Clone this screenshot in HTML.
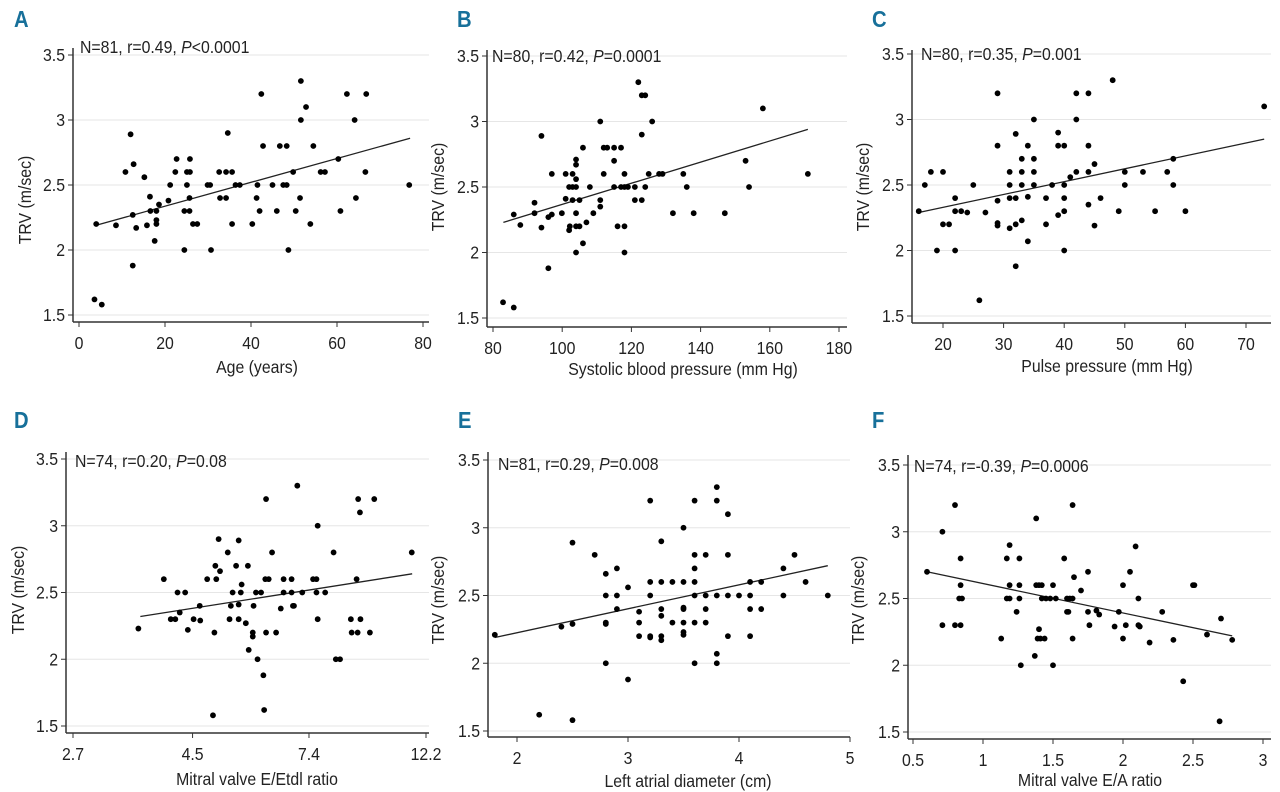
<!DOCTYPE html>
<html><head><meta charset="utf-8">
<style>
html,body{margin:0;padding:0;background:#fff;}
svg{display:block;font-family:"Liberation Sans Narrow","Liberation Sans",sans-serif;}
</style></head>
<body>
<svg id="fig" width="1280" height="792" viewBox="0 0 1280 792" xmlns="http://www.w3.org/2000/svg"></svg>
<script>
// ---- Data ----
const yTicks = [1.5, 2, 2.5, 3, 3.5];
const yTickLabels = ["1.5", "2", "2.5", "3", "3.5"];

const aX = [3.6,5.3,4,8.6,10.8,12,12.7,12.5,12.5,13.3,15.2,15.8,16.5,16.6,17.6,18,18,18,18.6,20.8,21.2,22.4,22.7,24.5,24.5,25.1,25.1,25.7,25.7,25.8,25.8,26.5,27.5,29.9,30.5,30.7,32.6,32.8,34.2,34.2,34.6,35.6,35.6,36.4,37.4,40.3,41.3,41.5,42,42.4,42.8,45,46,46.7,47.5,48.3,48.3,48.7,49.8,50.4,51.4,51.6,51.6,52.8,53.8,54.5,56.2,57.2,60.3,60.8,62.3,64.1,64.4,66.6,66.8,76.8];
const aY = [1.62,1.58,2.2,2.19,2.6,2.89,2.66,2.27,1.88,2.17,2.56,2.19,2.41,2.3,2.07,2.3,2.23,2.2,2.35,2.38,2.5,2.6,2.7,2.3,2.0,2.6,2.5,2.4,2.3,2.7,2.6,2.2,2.2,2.5,2.5,2.0,2.6,2.4,2.4,2.6,2.9,2.6,2.2,2.5,2.5,2.2,2.4,2.5,2.3,3.2,2.8,2.5,2.3,2.8,2.5,2.8,2.5,2.0,2.6,2.3,2.4,3.3,3.0,3.1,2.2,2.8,2.6,2.6,2.7,2.3,3.2,3.0,2.4,2.6,3.2,2.5];
const aFit = [4, 2.19, 77, 2.86];
const aXTicks = [0,20,40,60,80];
const aXTickLabels = ["0","20","40","60","80"];

const bX = [82.9,86,86,87.9,92,92,94,94,96,96,97,97,99.9,101,101,102,102,102.2,103,103,103,104,104,104,104,104,104,104,105,105,106,106,107,108,109,111,111,111,112,112,113,115,115,115,116,117,117,118,118,118,118,119,121,121,122,123,124,123,123,124,125,126,128,129,132,135,136,138,147,153,154,158,171];
const bY = [1.62,1.58,2.29,2.21,2.38,2.3,2.89,2.19,2.27,1.88,2.6,2.29,2.3,2.6,2.41,2.5,2.17,2.2,2.6,2.4,2.5,2.71,2.67,2.56,2.5,2.3,2.2,2.0,2.4,2.2,2.8,2.07,2.23,2.5,2.3,3.0,2.4,2.35,2.6,2.8,2.8,2.8,2.7,2.5,2.2,2.8,2.5,2.6,2.5,2.2,2.0,2.5,2.5,2.4,3.3,3.2,3.2,2.9,2.4,2.5,2.6,3.0,2.6,2.6,2.3,2.6,2.5,2.3,2.3,2.7,2.5,3.1,2.6];
const bFit = [83, 2.23, 171, 2.94];
const bXTicks = [80,100,120,140,160,180];
const bXTickLabels = ["80","100","120","140","160","180"];

const cX = [16,17,18,19,20,20,21,22,22,22,23,24,25,27,29,29,29,29,29,31,31,31,31,32,32,32,32,33,33,33,33,34,34,34,35,35,35,35,37,37,38,39,39,39,40,40,40,40,40,41,42,42,42,44,44,44,44,45,45,46,48,49,50,50,53,55,57,58,58,60,73,26];
const cY = [2.3,2.5,2.6,2.0,2.6,2.2,2.2,2.4,2.3,2.0,2.3,2.29,2.5,2.29,3.2,2.8,2.38,2.21,2.19,2.6,2.5,2.4,2.17,2.89,2.4,2.2,1.88,2.7,2.6,2.5,2.23,2.8,2.41,2.07,3.0,2.7,2.6,2.5,2.4,2.2,2.5,2.9,2.8,2.27,2.8,2.5,2.4,2.3,2.0,2.56,3.2,3.0,2.6,3.2,2.8,2.6,2.35,2.66,2.19,2.4,3.3,2.3,2.6,2.5,2.6,2.3,2.6,2.7,2.5,2.3,3.1,1.62];
const cFit = [16, 2.29, 73, 2.85];
const cXTicks = [20,30,40,50,60,70];
const cXTickLabels = ["20","30","40","50","60","70"];

const dX = [3.57,3.98,4.10,4.18,4.22,4.26,4.36,4.41,4.52,4.64,4.65,4.79,4.94,4.91,4.96,4.98,5.03,5.06,5.23,5.27,5.30,5.34,5.42,5.48,5.48,5.48,5.53,5.55,5.65,5.70,5.72,5.82,5.82,5.84,5.90,5.94,6.03,6.09,6.11,6.14,6.16,6.16,6.23,6.32,6.43,6.56,6.64,6.64,6.87,6.87,6.91,6.94,7.04,7.19,7.53,7.64,7.64,7.68,7.68,7.93,8.22,8.30,8.45,8.85,8.88,9.07,9.11,9.13,9.20,9.22,9.60,9.78,11.48];
const dY = [2.23,2.6,2.3,2.3,2.5,2.35,2.5,2.22,2.3,2.4,2.29,2.6,2.2,1.58,2.7,2.6,2.9,2.66,2.8,2.3,2.4,2.5,2.7,2.89,2.41,2.3,2.5,2.56,2.27,2.7,2.07,2.2,2.17,2.4,2.5,2.0,2.5,1.88,1.62,2.6,3.2,2.2,2.6,2.8,2.2,2.38,2.6,2.5,2.6,2.5,2.4,2.4,3.3,2.5,2.6,2.6,2.5,3.0,2.3,2.5,2.8,2.0,2.0,2.3,2.2,2.6,2.2,3.2,3.1,2.3,2.2,3.2,2.8];
const dFit = [3.6, 2.32, 11.5, 2.64];
const dXTicks = [2.7,4.5,7.4,12.2];
const dXTickLabels = ["2.7","4.5","7.4","12.2"];

const eX = [1.8,2.2,2.4,2.5,2.5,2.5,2.7,2.8,2.8,2.8,2.8,2.8,2.9,2.9,2.9,3.0,3.0,3.1,3.1,3.1,3.2,3.2,3.2,3.2,3.2,3.3,3.3,3.3,3.3,3.3,3.3,3.4,3.4,3.5,3.5,3.5,3.5,3.5,3.5,3.5,3.6,3.6,3.6,3.6,3.6,3.6,3.6,3.7,3.7,3.7,3.7,3.8,3.8,3.8,3.8,3.8,3.9,3.9,3.9,3.9,4.0,4.1,4.1,4.1,4.1,4.2,4.2,4.4,4.4,4.5,4.6,4.8];
const eY = [2.21,1.62,2.27,2.89,2.29,1.58,2.8,2.66,2.5,2.3,2.29,2.0,2.7,2.5,2.4,2.56,1.88,2.38,2.3,2.2,3.2,2.6,2.5,2.2,2.19,2.9,2.6,2.4,2.35,2.2,2.17,2.6,2.3,3.0,2.6,2.41,2.4,2.3,2.23,2.21,3.2,2.8,2.7,2.6,2.5,2.3,2.0,2.8,2.5,2.4,2.3,3.3,3.2,2.5,2.07,2.0,3.1,2.8,2.5,2.2,2.5,2.6,2.5,2.4,2.2,2.6,2.4,2.7,2.5,2.8,2.6,2.5];
const eFit = [1.8, 2.19, 4.8, 2.72];
const eXTicks = [2,3,4,5];
const eXTickLabels = ["2","3","4","5"];

const fX = [0.6,0.71,0.71,0.8,0.8,0.83,0.84,0.84,0.84,0.85,1.13,1.17,1.17,1.19,1.19,1.19,1.24,1.26,1.26,1.26,1.27,1.37,1.38,1.38,1.39,1.4,1.4,1.41,1.42,1.42,1.44,1.45,1.48,1.5,1.5,1.52,1.58,1.6,1.6,1.61,1.62,1.64,1.64,1.64,1.65,1.7,1.75,1.75,1.76,1.81,1.83,1.94,1.97,2.0,2.0,2.02,2.05,2.09,2.11,2.11,2.12,2.19,2.28,2.36,2.43,2.5,2.51,2.6,2.69,2.7,2.78];
const fY = [2.7,3.0,2.3,3.2,2.3,2.5,2.3,2.8,2.6,2.5,2.2,2.8,2.5,2.9,2.6,2.5,2.4,2.8,2.6,2.5,2.0,2.07,2.6,3.1,2.2,2.27,2.6,2.2,2.6,2.5,2.2,2.5,2.5,2.6,2.0,2.5,2.8,2.5,2.4,2.4,2.5,3.2,2.2,2.5,2.66,2.56,2.7,2.4,2.3,2.41,2.38,2.29,2.4,2.6,2.2,2.3,2.7,2.89,2.5,2.3,2.29,2.17,2.4,2.19,1.88,2.6,2.6,2.23,1.58,2.35,2.19];
const fFit = [0.6, 2.7, 2.78, 2.22];
const fXTicks = [0.5,1,1.5,2,2.5,3];
const fXTickLabels = ["0.5","1","1.5","2","2.5","3"];

// ---- Layout (geometry only) ----
const panels = [
 {id:'a',letter:'A',lx:14,ly:27,ax:73,top:48,y35:55,y15:315,axisY:322,right:429,x0:79,x1:423,d0:0,d1:80,log:false,X:aX,Y:aY,fit:aFit,xt:aXTicks,xl:aXTickLabels,ann:['N=81, r=0.49, ','P','<0.0001'],annX:80,annY:53,ylx:25,yly:200,xlab:'Age (years)',xlx:257,xly:373},
 {id:'b',letter:'B',lx:457,ly:27,ax:487,top:50,y35:56,y15:318,axisY:327,right:847,x0:493,x1:839,d0:80,d1:180,log:false,X:bX,Y:bY,fit:bFit,xt:bXTicks,xl:bXTickLabels,ann:['N=80, r=0.42, ','P','=0.0001'],annX:492,annY:62,ylx:438,yly:187,xlab:'Systolic blood pressure (mm Hg)',xlx:683,xly:375},
 {id:'c',letter:'C',lx:872,ly:27,ax:912,top:50,y35:54,y15:316,axisY:323,right:1271,x0:943,x1:1246,d0:20,d1:70,log:false,X:cX,Y:cY,fit:cFit,xt:cXTicks,xl:cXTickLabels,ann:['N=80, r=0.35, ','P','=0.001'],annX:921,annY:60,ylx:863,yly:187,xlab:'Pulse pressure (mm Hg)',xlx:1107,xly:372},
 {id:'d',letter:'D',lx:14,ly:428,ax:66,top:452,y35:459,y15:726,axisY:733,right:429,x0:73,x1:426,d0:2.7,d1:12.2,log:true,X:dX,Y:dY,fit:dFit,xt:dXTicks,xl:dXTickLabels,ann:['N=74, r=0.20, ','P','=0.08'],annX:75,annY:467,ylx:18,yly:590,xlab:'Mitral valve E/Etdl ratio',xlx:257,xly:785},
 {id:'e',letter:'E',lx:458,ly:428,ax:488,top:452,y35:460,y15:731,axisY:737,right:850,x0:517,x1:739,d0:2,d1:4,log:false,X:eX,Y:eY,fit:eFit,xt:eXTicks,xl:eXTickLabels,ann:['N=81, r=0.29, ','P','=0.008'],annX:498,annY:470,ylx:438,yly:600,xlab:'Left atrial diameter (cm)',xlx:688,xly:787},
 {id:'f',letter:'F',lx:872,ly:428,ax:908,top:455,y35:465,y15:732,axisY:739,right:1271,x0:913,x1:1263,d0:0.5,d1:3,log:false,X:fX,Y:fY,fit:fFit,xt:fXTicks,xl:fXTickLabels,ann:['N=74, r=-0.39, ','P','=0.0006'],annX:914,annY:472,ylx:858,yly:600,xlab:'Mitral valve E/A ratio',xlx:1090,xly:786}
];

const NS='http://www.w3.org/2000/svg';
const svg=document.getElementById('fig');
const SX=0.88;
function mk(tag,attrs,parent){const e=document.createElementNS(NS,tag);for(const k in attrs)e.setAttribute(k,attrs[k]);(parent||svg).appendChild(e);return e;}
// condensed text placed at (x,y)
function ctext(x,y,attrs,parent,rot){
  const t=mk('text',Object.assign({x:0,y:0},attrs),parent);
  t.setAttribute('transform','translate('+x+' '+y+')'+(rot?' rotate(-90)':'')+' scale('+SX+' 1)');
  return t;
}

panels.forEach(p=>{
  const g=mk('g',{});
  
  
  const xs=v=>{
    if(p.log){return p.x0+(Math.log(v)-Math.log(p.d0))/(Math.log(p.d1)-Math.log(p.d0))*(p.x1-p.x0);}
    return p.x0+(v-p.d0)/(p.d1-p.d0)*(p.x1-p.x0);
  };
  const ys=v=>p.y15+(v-1.5)/(3.5-1.5)*(p.y35-p.y15);

  yTicks.forEach((t,i)=>{
    const gl=mk('line',{x1:p.ax,x2:p.right,y1:ys(t),y2:ys(t),stroke:'#e6e6e6','stroke-width':1},g);
    
    
    const tk=mk('line',{x1:p.ax-5,x2:p.ax,y1:ys(t),y2:ys(t),stroke:'#333','stroke-width':1},g);
    
    
    const tl=ctext(p.ax-8,ys(t)+6,{'text-anchor':'end','font-size':18,fill:'#222'},g);
    tl.textContent=yTickLabels[i];
    
    
  });
  const yaxis=mk('line',{x1:p.ax,x2:p.ax,y1:p.top,y2:p.axisY,stroke:'#333','stroke-width':1.5},g);
  
  
  const xaxis=mk('line',{x1:p.ax,x2:p.right,y1:p.axisY,y2:p.axisY,stroke:'#333','stroke-width':1.5},g);
  
  
  p.xt.forEach((t,i)=>{
    const tk=mk('line',{x1:xs(t),x2:xs(t),y1:p.axisY,y2:p.axisY+5,stroke:'#333','stroke-width':1},g);
    
    
    const tl=ctext(xs(t),p.axisY+27,{'text-anchor':'middle','font-size':18,fill:'#222'},g);
    tl.textContent=p.xl[i];
    
    
  });
  const fl=mk('line',{x1:xs(p.fit[0]),y1:ys(p.fit[1]),x2:xs(p.fit[2]),y2:ys(p.fit[3]),stroke:'#222','stroke-width':1.3},g);
  
  
  p.X.forEach((xv,i)=>{
    const c=mk('circle',{cx:xs(xv),cy:ys(p.Y[i]),r:2.9,fill:'#000'},g);
    
    
  });
  const an=ctext(p.annX,p.annY,{'font-size':18,fill:'#222'},g);
  
  
  const s1=mk('tspan',{},an);s1.textContent=p.ann[0];
  const s2=mk('tspan',{'font-style':'italic'},an);s2.textContent=p.ann[1];
  const s3=mk('tspan',{},an);s3.textContent=p.ann[2];
  const yl=ctext(p.ylx+6,p.yly,{'text-anchor':'middle','font-size':18,fill:'#222'},g,true);
  yl.textContent='TRV (m/sec)';
  
  
  const xl=ctext(p.xlx,p.xly,{'text-anchor':'middle','font-size':18,fill:'#222'},g);
  xl.textContent=p.xlab;
  
  
  const lt=ctext(p.lx,p.ly,{'font-size':23,'font-weight':'bold',fill:'#17709a'},g);
  lt.textContent=p.letter;
  
  
});
</script>
</body></html>
